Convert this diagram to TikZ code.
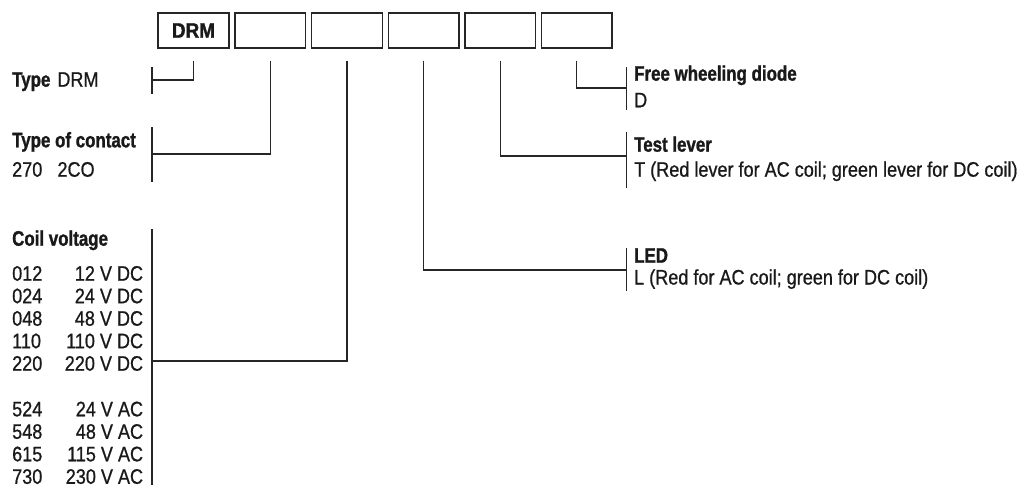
\documentclass[tikz,border=0pt]{standalone}
\usepackage{fontspec}
\setmainfont{Liberation Sans}[FakeStretch=0.86,FakeBold=0.8,BoldFeatures={FakeStretch=0.805,FakeBold=1.2}]
\usetikzlibrary{positioning}

\begin{document}
\begin{tikzpicture}[x=1pt, y=-1pt,
        every node/.style={inner sep=0pt, font=\fontsize{21}{22.5}\selectfont, text=black!90},
        codebox/.style={draw=black!85, line width=1.3pt, minimum width=70.6pt, minimum height=35pt},
        link/.style={draw=black!85, line width=1.3pt},
        node distance=4.7pt]
            \useasboundingbox (0,0) rectangle (1019,488);
            % order code
            \node[codebox, line width=1.9pt, font=\fontsize{21}{22.5}\selectfont\bfseries] (b1) at (193.5,30.5) {\scalebox{1.12}[1]{DRM}};
            \node[codebox, right=of b1] (b2) {};
            \node[codebox, right=of b2] (b3) {};
            \node[codebox, right=of b3] (b4) {};
            \node[codebox, right=of b4] (b5) {};
            \node[codebox, right=of b5] (b6) {};
            % brackets
            \coordinate (typeJ) at (152,80);
            \coordinate (contactJ) at (152,154);
            \coordinate (coilJ) at (152,361);
            \coordinate (ledJ) at (626.5,270);
            \coordinate (leverJ) at (626.5,156);
            \coordinate (diodeJ) at (626.5,88);
            \draw[link] (152,67) -- (152,93.5);
            \draw[link] (152,127) -- (152,182);
            \draw[link] (152,229) -- (152,485);
            \draw[link] (626.5,67) -- (626.5,110);
            \draw[link] (626.5,132) -- (626.5,188);
            \draw[link] (626.5,248) -- (626.5,291);
            \draw[link] ([yshift=-12pt]b1.south) |- (typeJ);
            \draw[link] ([yshift=-12pt]b2.south) |- (contactJ);
            \draw[link] ([yshift=-12pt]b3.south) |- (coilJ);
            \draw[link] ([yshift=-12pt]b4.south) |- (ledJ);
            \draw[link] ([yshift=-12pt]b5.south) |- (leverJ);
            \draw[link] ([yshift=-12pt]b6.south) |- (diodeJ);
            % left labels
            \node[anchor=base west] (typeL) at (12,86.7) {\textbf{Type}\hspace{7pt}DRM};
            \node[anchor=base west] (contactL) at (12,147.3) {\textbf{Type of contact}};
            \node[anchor=base west] (contactC) at (12,176.7) {270};
            \node[anchor=base west] (contactV) at (57.3,176.7) {2CO};
            \node[anchor=base west] (coilL) at (12,245.7) {\textbf{Coil voltage}};
            \foreach \code/\volt [count=\i] in {012/12 V DC, 024/24 V DC, 048/48 V DC, 110/110 V DC, 220/220 V DC} {
                \node[anchor=base west] (dc\i) at (12,258.2+22.5*\i) {\code};
                \node[anchor=base east] (dcv\i) at (143.3,258.2+22.5*\i) {\volt};
            }
            \foreach \code/\volt [count=\i] in {524/24 V AC, 548/48 V AC, 615/115 V AC, 730/230 V AC} {
                \node[anchor=base west] (ac\i) at (12,393.8+22.5*\i) {\code};
                \node[anchor=base east] (acv\i) at (143.3,393.8+22.5*\i) {\volt};
            }
            % right labels
            \node[anchor=base west] (diodeL) at (634,80.7) {\textbf{Free wheeling diode}};
            \node[anchor=base west] (diodeC) at (634,107.3) {D};
            \node[anchor=base west] (leverL) at (634,151.7) {\textbf{Test lever}};
            \node[anchor=base west] (leverC) at (634,176.7) {T (Red lever for AC coil; green lever for DC coil)};
            \node[anchor=base west] (ledL) at (634,262.7) {\textbf{LED}};
            \node[anchor=base west] (ledC) at (634,284.5) {L (Red for AC coil; green for DC coil)};
        \end{tikzpicture}
\end{document}
